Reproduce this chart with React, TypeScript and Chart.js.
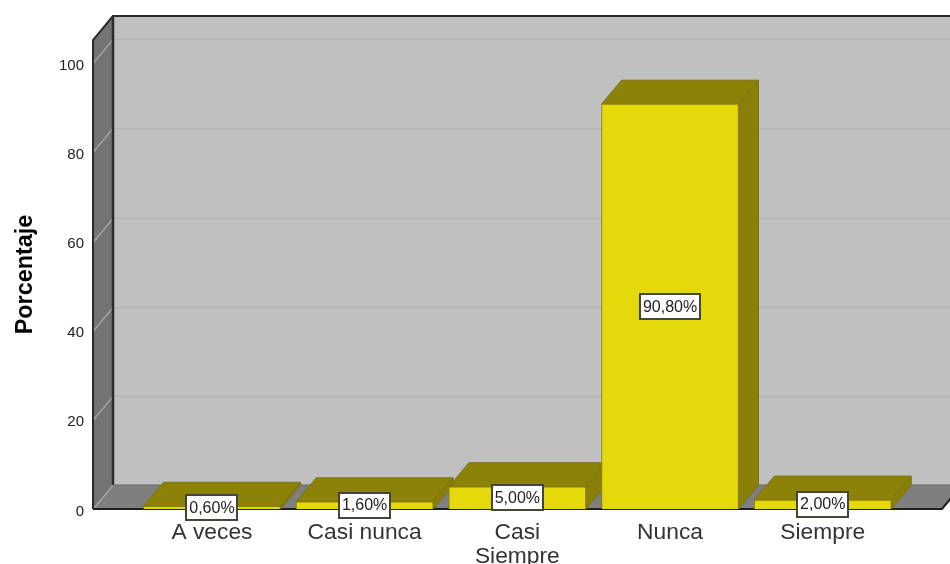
import React, { useEffect, useRef } from "react";
import { Chart, registerables } from "chart.js";

Chart.register(...registerables);

const categories: (string | string[])[] = ["A veces", "Casi nunca", ["Casi", "Siempre"], "Nunca", "Siempre"];
const percentages = [0.6, 1.6, 5.0, 90.8, 2.0];
const yTicks = [0, 20, 40, 60, 80, 100];
const yAxisTitle = "Porcentaje";

const DEPTH_X = 20;
const DEPTH_Y = 24;
const FONT = "'Liberation Sans', Arial, sans-serif";

function poly(ctx: CanvasRenderingContext2D, pts: number[][], fill?: string, stroke?: string, lw = 1) {
  ctx.beginPath();
  pts.forEach((p, i) => (i ? ctx.lineTo(p[0], p[1]) : ctx.moveTo(p[0], p[1])));
  if (fill) {
    ctx.closePath();
    ctx.fillStyle = fill;
    ctx.fill();
  }
  if (stroke) {
    ctx.strokeStyle = stroke;
    ctx.lineWidth = lw;
    ctx.stroke();
  }
}

const box3d = {
  id: "box3d",
  beforeDatasetsDraw(chart: any) {
    const { ctx, chartArea: a, scales } = chart;
    const y = scales.y;
    const L = a.left, R = a.right, T = a.top, B = a.bottom;
    const dx = DEPTH_X, dy = DEPTH_Y;
    ctx.save();
    // back wall, side wall, floor
    poly(ctx, [[L + dx, T - dy], [R + dx, T - dy], [R + dx, B - dy], [L + dx, B - dy]], "#c0c0c0");
    poly(ctx, [[L, T], [L + dx, T - dy], [L + dx, B - dy], [L, B]], "#737373");
    poly(ctx, [[L, B], [L + dx, B - dy], [R + dx, B - dy], [R, B]], "#7f7f7f");
    // gridlines
    yTicks.forEach((t) => {
      const p = Math.round(y.getPixelForValue(t)) + 0.5;
      if (t > 0) poly(ctx, [[L + dx, p - dy], [R + dx, p - dy]], undefined, "#b2b2b2", 1.5);
      poly(ctx, [[L, p], [L + dx, p - dy]], undefined, "#a3a3a3", 1.5);
    });
    // wall edges
    poly(ctx, [[L, B], [L, T], [L + dx, T - dy], [R + dx, T - dy]], undefined, "#2b2b2b", 2);
    poly(ctx, [[L + dx, T - dy], [L + dx, B - dy]], undefined, "#2b2b2b", 2.5);
    poly(ctx, [[L + dx, B - dy], [R + dx, B - dy]], undefined, "#666666", 1);
    poly(ctx, [[L, B], [R, B], [R + dx, B - dy]], undefined, "#1f1f1f", 2);
    // value-axis tick labels sit slightly below their gridline ends
    ctx.font = `15px ${FONT}`;
    ctx.fillStyle = "#222222";
    ctx.textAlign = "right";
    ctx.textBaseline = "middle";
    yTicks.forEach((t) => ctx.fillText(String(t), L - 9, y.getPixelForValue(t) + 2.5));
    // bar tops and sides
    const meta = chart.getDatasetMeta(0);
    meta.data.forEach((el: any) => {
      const half = el.width / 2;
      const l = el.x - half, r = el.x + half, t = el.y, b = el.base;
      poly(ctx, [[l, t], [l + dx, t - dy], [r + dx, t - dy], [r, t]], "#8c8207", "#7d7510", 1);
      poly(ctx, [[r, t], [r + dx, t - dy], [r + dx, b - dy], [r, b]], "#8a8007", "#7d7510", 1);
    });
    ctx.restore();
  },
  afterDatasetsDraw(chart: any) {
    const { ctx } = chart;
    const meta = chart.getDatasetMeta(0);
    ctx.save();
    ctx.font = `16px ${FONT}`;
    ctx.textAlign = "center";
    ctx.textBaseline = "middle";
    meta.data.forEach((el: any, i: number) => {
      const cy = (el.y + el.base) / 2;
      const text = percentages[i].toFixed(2).replace(".", ",") + "%";
      const w = Math.round(ctx.measureText(text).width) + 8, h = 27;
      const x0 = Math.round(el.x - w / 2), y0 = Math.round(cy - h / 2);
      ctx.fillStyle = "#ffffff";
      ctx.fillRect(x0, y0, w, h);
      ctx.strokeStyle = "#45453a";
      ctx.lineWidth = 2;
      ctx.strokeRect(x0 + 1, y0 + 1, w - 2, h - 2);
      ctx.fillStyle = "#222222";
      ctx.fillText(text, el.x, cy + 0.5);
    });
    ctx.restore();
  },
};

export default function App() {
  const ref = useRef<HTMLCanvasElement>(null);
  useEffect(() => {
    const chart = new Chart(ref.current as HTMLCanvasElement, {
      type: "bar",
      data: {
        datasets: [
          {
            data: percentages.map((v, i) => ({ x: i, y: v })),
            backgroundColor: "#e5d80b",
            borderColor: "#8c8207",
            borderWidth: 1,
            barThickness: 137,
          },
        ],
      },
      plugins: [box3d],
      options: {
        responsive: false,
        animation: false,
        layout: { padding: { top: 40, right: 8, left: 0, bottom: 0 } },
        plugins: { legend: { display: false }, tooltip: { enabled: false } },
        scales: {
          x: {
            type: "linear",
            offset: false,
            min: -0.779,
            max: 4.781,
            grid: { display: false },
            border: { display: false },
            afterBuildTicks(axis: any) {
              axis.ticks = categories.map((_, i) => ({ value: i }));
            },
            afterFit(axis: any) {
              axis.height = 55;
            },
            ticks: {
              autoSkip: false,
              maxRotation: 0,
              minRotation: 0,
              padding: 4,
              color: "#333333",
              font: { family: FONT, size: 22.8, lineHeight: 1.05 },
              callback: (v: any) => categories[v],
            },
          },
          y: {
            min: 0,
            max: 105.2,
            grid: { display: false, drawTicks: false },
            border: { display: false },
            afterFit(axis: any) {
              axis.width = 93;
            },
            afterBuildTicks(axis: any) {
              axis.ticks = yTicks.map((value) => ({ value }));
            },
            ticks: { display: false },
            title: {
              display: true,
              text: yAxisTitle,
              color: "#000000",
              font: { family: FONT, size: 23.4, weight: "bold" },
              padding: { top: 12, bottom: 0 },
            },
          },
        },
      },
    } as any);
    return () => chart.destroy();
  }, []);
  return (
    <canvas
      ref={ref}
      width={950}
      height={564}
      style={{ position: "fixed", left: 0, top: 0, width: 950, height: 564, display: "block" }}
    />
  );
}
